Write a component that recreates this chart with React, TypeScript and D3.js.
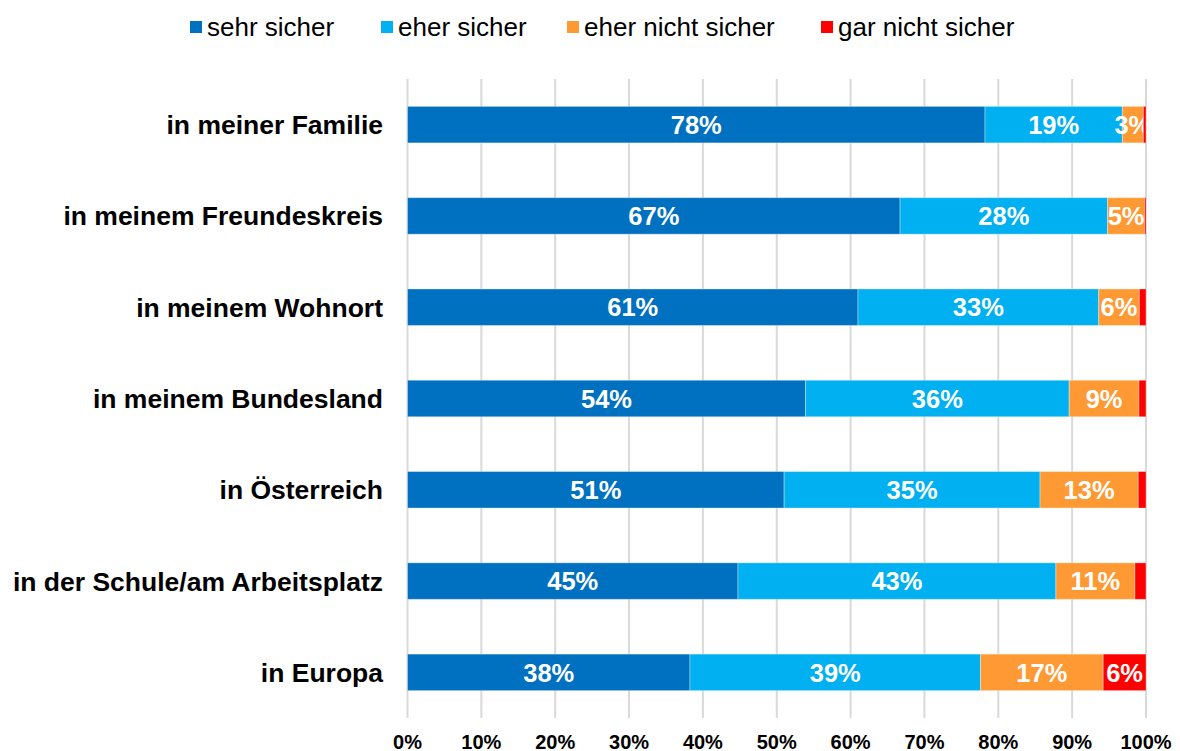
import React, { useEffect, useRef } from "react";
import * as d3 from "d3";

// categories (top to bottom)
const categories = [
  "in meiner Familie",
  "in meinem Freundeskreis",
  "in meinem Wohnort",
  "in meinem Bundesland",
  "in Österreich",
  "in der Schule/am Arbeitsplatz",
  "in Europa",
];

const seriesNames = ["sehr sicher", "eher sicher", "eher nicht sicher", "gar nicht sicher"];
const seriesColors = ["#0070C0", "#00B0F0", "#FF9933", "#FF0000"];

// values in percent
const sehrSicher = [78.2, 66.7, 61.0, 53.9, 51.0, 44.75, 38.25];
const eherSicher = [18.6, 28.1, 32.6, 35.7, 34.65, 43.05, 39.35];
const eherNichtSicher = [2.84, 5.0, 5.5, 9.45, 13.3, 10.7, 16.6];
const garNichtSicher = [0.36, 0.2, 0.9, 0.95, 1.05, 1.5, 5.8];

const xTicks = [0, 10, 20, 30, 40, 50, 60, 70, 80, 90, 100];

const App = () => {
  const ref = useRef<SVGSVGElement>(null);

  useEffect(() => {
    const width = 1180,
      height = 751;
    const svg = d3.select(ref.current);
    svg.selectAll("*").remove();
    svg.attr("width", width).attr("height", height);

    const font = "Liberation Sans, Arial, sans-serif";

    // build the table for the stack
    const rows = categories.map((c, i) => ({
      category: c,
      "sehr sicher": sehrSicher[i],
      "eher sicher": eherSicher[i],
      "eher nicht sicher": eherNichtSicher[i],
      "gar nicht sicher": garNichtSicher[i],
    }));
    const stacked = d3.stack<any>().keys(seriesNames)(rows);

    const x = d3.scaleLinear().domain([0, 100]).range([407.5, 1146]);
    const y = d3
      .scaleBand()
      .domain(categories)
      .range([79, 718])
      .paddingInner(0.6)
      .paddingOuter(0.3);

    // gridlines
    svg
      .append("g")
      .selectAll("line")
      .data(xTicks)
      .enter()
      .append("line")
      .attr("x1", (d) => x(d))
      .attr("x2", (d) => x(d))
      .attr("y1", 79)
      .attr("y2", 718)
      .attr("stroke", "#d9d9d9")
      .attr("stroke-width", 2);

    // bars
    const layers = svg
      .append("g")
      .selectAll("g")
      .data(stacked)
      .enter()
      .append("g")
      .attr("fill", (_, i) => seriesColors[i]);

    layers
      .selectAll("rect")
      .data((d) => d)
      .enter()
      .append("rect")
      .attr("x", (d) => x(d[0]))
      .attr("y", (d: any) => y(d.data.category)!)
      .attr("width", (d) => x(d[1]) - x(d[0]))
      .attr("height", y.bandwidth())
      .attr("stroke", "rgba(255,255,255,0.35)")
      .attr("stroke-width", 1);

    // value labels
    layers
      .selectAll("text")
      .data((d) => d)
      .enter()
      .append("text")
      .attr("x", (d) => (x(d[0]) + x(d[1])) / 2)
      .attr("y", (d: any) => y(d.data.category)! + y.bandwidth() / 2)
      .attr("dy", "0.36em")
      .attr("text-anchor", "middle")
      .attr("fill", "#fff")
      .style("font-family", font)
      .style("font-weight", "bold")
      .style("font-size", "25.5px")
      .text((d) => (d[1] - d[0] >= 2 ? `${Math.round(d[1] - d[0])}%` : ""));

    // category labels
    svg
      .append("g")
      .selectAll("text")
      .data(categories)
      .enter()
      .append("text")
      .attr("x", 383)
      .attr("y", (d) => y(d)! + y.bandwidth() / 2)
      .attr("dy", "0.36em")
      .attr("text-anchor", "end")
      .attr("fill", "#000")
      .style("font-family", font)
      .style("font-weight", "bold")
      .style("font-size", "26.5px")
      .text((d) => d);

    // x axis tick labels
    svg
      .append("g")
      .selectAll("text")
      .data(xTicks)
      .enter()
      .append("text")
      .attr("x", (d) => x(d))
      .attr("y", 749)
      .attr("text-anchor", "middle")
      .attr("fill", "#000")
      .style("font-family", font)
      .style("font-weight", "bold")
      .style("font-size", "20px")
      .text((d) => `${d}%`);

    // legend
    const legendX = [190, 381, 567, 821];
    const legend = svg
      .append("g")
      .selectAll("g")
      .data(seriesNames)
      .enter()
      .append("g")
      .attr("transform", (_, i) => `translate(${legendX[i]},0)`);
    legend
      .append("rect")
      .attr("x", 0)
      .attr("y", 21)
      .attr("width", 12)
      .attr("height", 12)
      .attr("fill", (_, i) => seriesColors[i]);
    legend
      .append("text")
      .attr("x", 17)
      .attr("y", 36)
      .attr("fill", "#000")
      .style("font-family", font)
      .style("font-size", "26px")
      .text((d) => d);
  }, []);

  return (
    <div style={{ position: "absolute", left: 0, top: 0 }}>
      <svg ref={ref}></svg>
    </div>
  );
};

export default App;
